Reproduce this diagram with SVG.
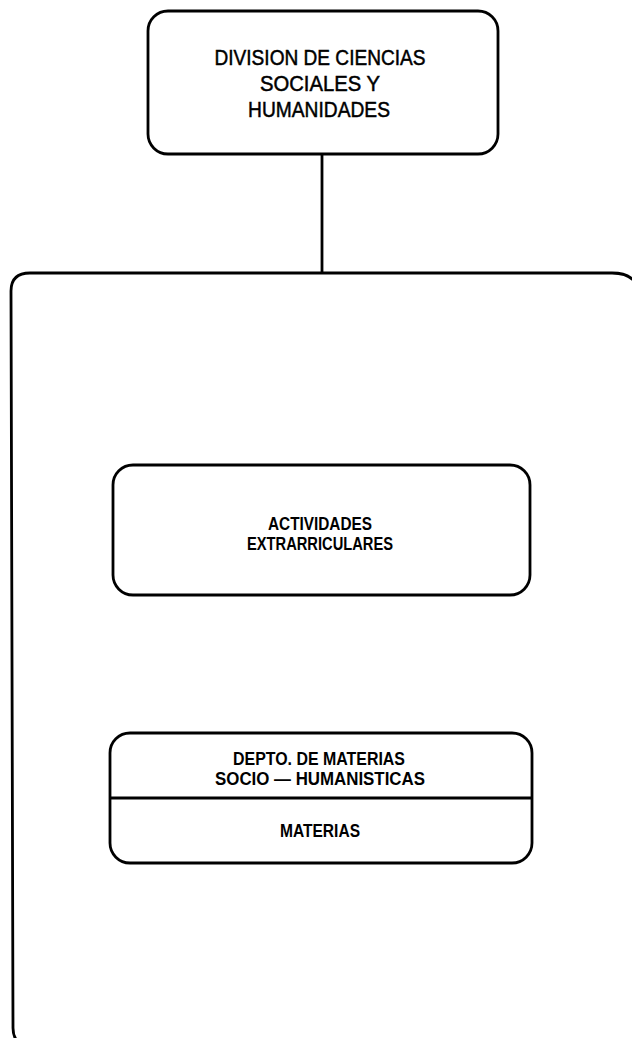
<svg xmlns="http://www.w3.org/2000/svg" width="632" height="1038" viewBox="0 0 632 1038">
<style>
.box{fill:none;stroke:#000;stroke-width:2.8;stroke-linejoin:round}
.conn{fill:none;stroke:#000;stroke-width:2.8}
text{font-family:"Liberation Sans",Arial,sans-serif;fill:#000;text-anchor:middle}
.t1{font-size:22px;stroke:#000;stroke-width:0.5}
.t2{font-size:18px;font-weight:bold}
.t3{font-size:18px;font-weight:bold}
</style>
<rect width="632" height="1038" fill="#fff"/>
<g id="connectors">
<line class="conn" x1="322" y1="154" x2="322" y2="273"/>
</g>
<g id="division">
<rect class="box" x="148" y="11" width="350" height="143" rx="20" ry="20"/>
<text class="t1" x="320" y="65" textLength="211" lengthAdjust="spacingAndGlyphs">DIVISION DE CIENCIAS</text>
<text class="t1" x="320" y="91" textLength="120" lengthAdjust="spacingAndGlyphs">SOCIALES Y</text>
<text class="t1" x="319" y="117" textLength="142" lengthAdjust="spacingAndGlyphs">HUMANIDADES</text>
</g>
<g id="contenedor">
<path class="box" d="M30 273 L612 273 Q640 273 640 300 L640 1020 Q640 1046 614 1046 L32 1046 Q13 1046 13 1028 L11 291 Q11 273 30 273 Z"/>
</g>
<g id="actividades">
<rect class="box" x="113" y="465" width="417" height="130" rx="20" ry="20"/>
<text class="t2" x="320" y="530" textLength="104" lengthAdjust="spacingAndGlyphs">ACTIVIDADES</text>
<text class="t2" x="320" y="550" textLength="146" lengthAdjust="spacingAndGlyphs">EXTRARRICULARES</text>
</g>
<g id="depto">
<rect class="box" x="110" y="733" width="422" height="130" rx="20" ry="20"/>
<line class="box" x1="110" y1="798" x2="532" y2="798"/>
<text class="t3" x="319" y="765" textLength="172" lengthAdjust="spacingAndGlyphs">DEPTO. DE MATERIAS</text>
<text class="t3" x="320" y="785" textLength="210" lengthAdjust="spacingAndGlyphs">SOCIO — HUMANISTICAS</text>
<text class="t3" x="320" y="837" textLength="80" lengthAdjust="spacingAndGlyphs">MATERIAS</text>
</g>
</svg>
